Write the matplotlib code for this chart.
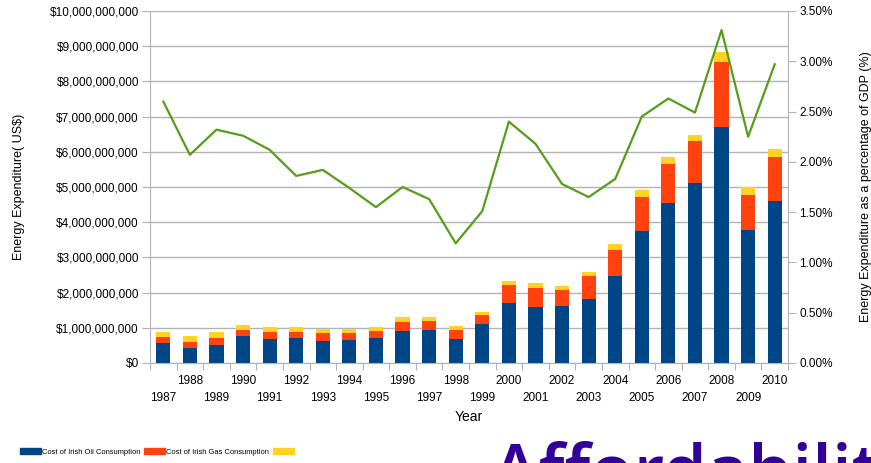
import numpy as np
import matplotlib
matplotlib.use('Agg')
import matplotlib.pyplot as plt
from matplotlib.patches import Patch
from matplotlib.ticker import FuncFormatter, MultipleLocator
from matplotlib import font_manager

plt.rcParams['font.family'] = ['Liberation Sans', 'DejaVu Sans']

# ── data ──────────────────────────────────────────────────────────────────────
years = list(range(1987, 2011))
oil_bn = [0.57, 0.43, 0.51, 0.77, 0.68, 0.71, 0.62, 0.65, 0.71, 0.91, 0.94, 0.68,
          1.11, 1.71, 1.60, 1.62, 1.82, 2.47, 3.75, 4.55, 5.11, 6.70, 3.78, 4.60]
gas_bn = [0.17, 0.17, 0.20, 0.17, 0.20, 0.17, 0.23, 0.20, 0.20, 0.26, 0.25, 0.26,
          0.26, 0.51, 0.53, 0.45, 0.65, 0.74, 0.97, 1.10, 1.20, 1.85, 0.99, 1.25]
other_bn = [0.14, 0.17, 0.17, 0.15, 0.14, 0.14, 0.12, 0.12, 0.11, 0.14, 0.12, 0.11,
            0.08, 0.11, 0.14, 0.12, 0.12, 0.17, 0.19, 0.20, 0.17, 0.29, 0.23, 0.23]
gdp_pct = [2.60, 2.07, 2.32, 2.26, 2.12, 1.86, 1.92, 1.74, 1.55, 1.75, 1.63, 1.19,
           1.51, 2.40, 2.18, 1.78, 1.65, 1.83, 2.45, 2.63, 2.49, 3.31, 2.25, 2.97]
legend_labels = ['Cost of Irish Oil Consumption', 'Cost of Irish Gas Consumption', '']

OIL, GAS, OTHER, LINE = '#004586', '#ff420e', '#ffd320', '#579d1c'
GRID = '#b3b3b3'

# narrow face for the legend if the system has it
names = {f.name for f in font_manager.fontManager.ttflist}
if 'Liberation Sans Narrow' in names:
    leg_font = dict(family='Liberation Sans Narrow', size=6.2)
else:
    leg_font = dict(family='Liberation Sans', size=5.4)

oil = np.array(oil_bn) * 1e9
gas = np.array(gas_bn) * 1e9
other = np.array(other_bn) * 1e9
x = np.arange(len(years))

W, H = 871, 463
fig = plt.figure(figsize=(W / 100, H / 100), dpi=100)
ax = fig.add_axes([150 / W, 1 - 363 / H, (788 - 150) / W, (363 - 11) / H])

ax.bar(x, oil, width=0.53, color=OIL, zorder=2)
ax.bar(x, gas, width=0.53, bottom=oil, color=GAS, zorder=2)
ax.bar(x, other, width=0.53, bottom=oil + gas, color=OTHER, zorder=2)

ax.set_xlim(-0.5, len(years) - 0.5)
ax.set_ylim(0, 10e9)
ax.yaxis.set_major_locator(MultipleLocator(1e9))
ax.yaxis.set_major_formatter(FuncFormatter(lambda v, p: f'${v:,.0f}'))
ax.grid(axis='y', color=GRID, linewidth=1, zorder=0)

# ticks between categories, labels staggered on two rows
ax.set_xticks(np.arange(-0.5, len(years)), labels=[])
ax.set_xticks(x, minor=True)
ax.set_xticklabels([str(y) if y % 2 == 0 else '\n' + str(y) for y in years],
                   minor=True, fontsize=8.5, linespacing=1.5)
ax.tick_params(axis='x', which='minor', length=0, pad=9)
ax.tick_params(axis='x', which='major', length=5, color=GRID)
ax.tick_params(axis='y', length=6, color=GRID, labelsize=8.5, pad=2)

for s in ['top', 'right']:
    ax.spines[s].set_visible(False)
for s in ['left', 'bottom']:
    ax.spines[s].set_color(GRID)

ax.set_xlabel('Year', fontsize=10, labelpad=4)
ax.set_ylabel('Energy Expenditure( US$)', fontsize=9, labelpad=18)

ax2 = ax.twinx()
ax2.plot(x, gdp_pct, color=LINE, linewidth=1.6, zorder=3)
ax2.set_ylim(0, 3.5)
ax2.yaxis.set_major_locator(MultipleLocator(0.5))
ax2.yaxis.set_major_formatter(FuncFormatter(lambda v, p: f'{v:.2f}%'))
ax2.tick_params(axis='y', length=6, color=GRID, labelsize=8.5, pad=2)
for s in ['top', 'left', 'bottom']:
    ax2.spines[s].set_visible(False)
ax2.spines['right'].set_color(GRID)
ax2.set_ylabel('Energy Expenditure as a percentage of GDP (%)', fontsize=9, labelpad=20)

handles = [Patch(color=OIL), Patch(color=GAS), Patch(color=OTHER)]
fig.legend(handles, legend_labels, loc='center left', bbox_to_anchor=(16 / W, 1 - 452 / H),
           ncol=3, frameon=False, prop=leg_font, handlelength=2.8, handleheight=0.8,
           handletextpad=0.15, columnspacing=0.5, borderpad=0)

# slide title cut off by the bottom edge
fig.text(492 / W, 1 - 495 / H, 'Affordability', color='#330099', fontsize=51,
         fontfamily='Open Sans', fontweight='semibold', ha='left', va='baseline')

fig.savefig('out.png', dpi=100)
